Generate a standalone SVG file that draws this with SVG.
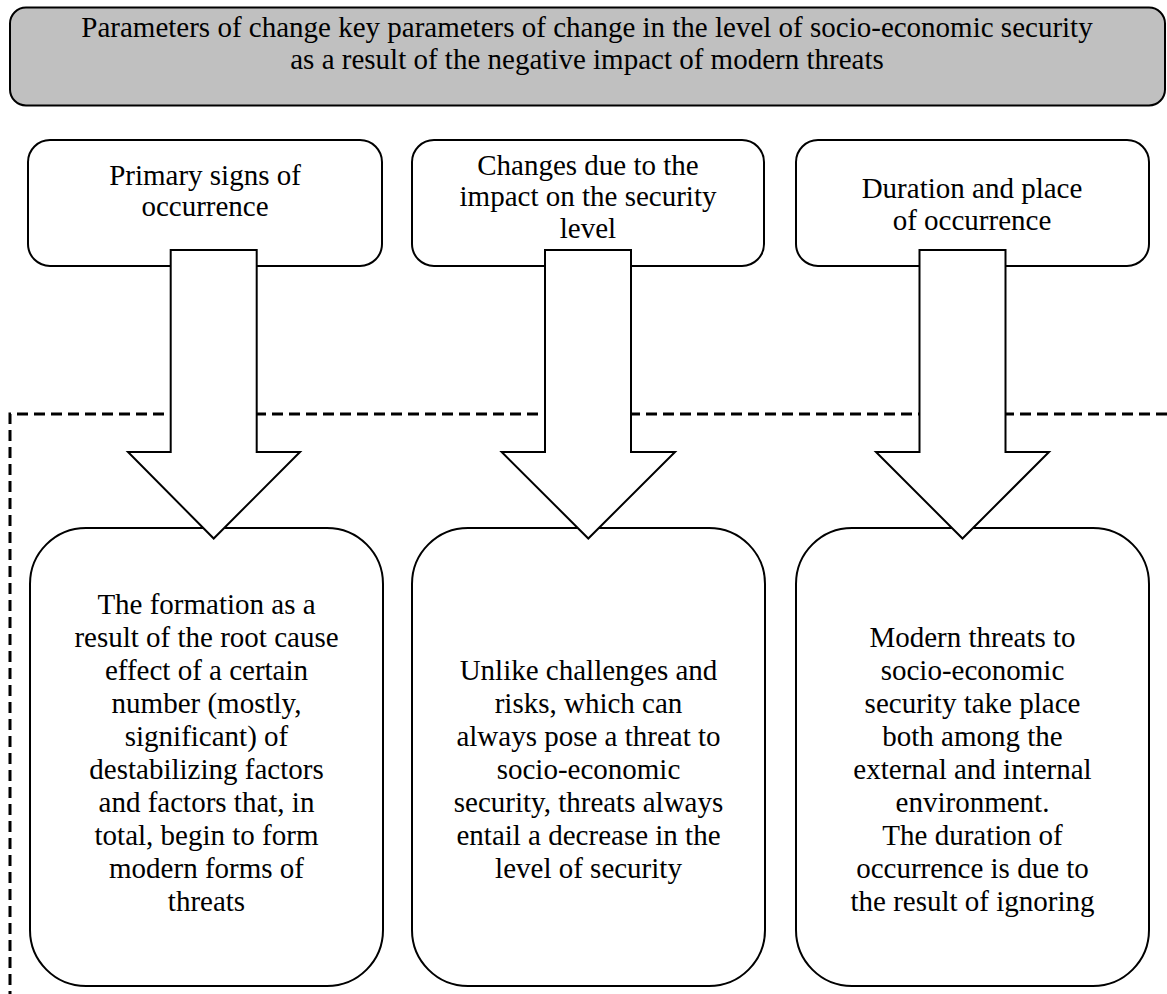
<svg xmlns="http://www.w3.org/2000/svg" width="1167" height="994" viewBox="0 0 1167 994">
<style>
  .box{fill:#fff;stroke:#000;stroke-width:2}
  .banner{fill:#c0c0c0;stroke:#000;stroke-width:2}
  .arrow{fill:#fff;stroke:#000;stroke-width:2;stroke-linejoin:miter}
  .dash{fill:none;stroke:#000;stroke-width:3;stroke-dasharray:11 6}
  text{font-family:"Liberation Serif","Times New Roman",Times,serif;font-size:29px;fill:#000;text-anchor:middle}
</style>
<rect width="1167" height="994" fill="#fff"/>
<g id="banner">
  <rect class="banner" x="10" y="7.5" width="1155" height="98" rx="16"/>
  <text x="587" y="37">Parameters of change key parameters of change in the level of socio-economic security</text>
  <text x="587" y="69">as a result of the negative impact of modern threats</text>
</g>
<g id="top1">
  <rect class="box" x="28" y="140" width="354" height="126" rx="22"/>
  <text x="205" y="185">Primary signs of</text>
  <text x="205" y="216">occurrence</text>
</g>
<g id="top2">
  <rect class="box" x="412" y="140" width="352" height="126" rx="22"/>
  <text x="588" y="175">Changes due to the</text>
  <text x="588" y="206">impact on the security</text>
  <text x="588" y="238">level</text>
</g>
<g id="top3">
  <rect class="box" x="796" y="140" width="353" height="126" rx="22"/>
  <text x="972" y="198">Duration and place</text>
  <text x="972" y="230">of occurrence</text>
</g>
<g id="bottom1">
  <rect class="box" x="30" y="528" width="353" height="458" rx="56"/>
  <text x="206.5" y="614">The formation as a</text>
  <text x="206.5" y="647">result of the root cause</text>
  <text x="206.5" y="680">effect of a certain</text>
  <text x="206.5" y="713">number (mostly,</text>
  <text x="206.5" y="746">significant) of</text>
  <text x="206.5" y="779">destabilizing factors</text>
  <text x="206.5" y="812">and factors that, in</text>
  <text x="206.5" y="845">total, begin to form</text>
  <text x="206.5" y="878">modern forms of</text>
  <text x="206.5" y="911">threats</text>
</g>
<g id="bottom2">
  <rect class="box" x="412" y="528" width="353" height="458" rx="56"/>
  <text x="588.5" y="680">Unlike challenges and</text>
  <text x="588.5" y="713">risks, which can</text>
  <text x="588.5" y="746">always pose a threat to</text>
  <text x="588.5" y="779">socio-economic</text>
  <text x="588.5" y="812">security, threats always</text>
  <text x="588.5" y="845">entail a decrease in the</text>
  <text x="588.5" y="878">level of security</text>
</g>
<g id="bottom3">
  <rect class="box" x="796" y="528" width="353" height="458" rx="56"/>
  <text x="972.5" y="647">Modern threats to</text>
  <text x="972.5" y="680">socio-economic</text>
  <text x="972.5" y="713">security take place</text>
  <text x="972.5" y="746">both among the</text>
  <text x="972.5" y="779">external and internal</text>
  <text x="972.5" y="812">environment.</text>
  <text x="972.5" y="845">The duration of</text>
  <text x="972.5" y="878">occurrence is due to</text>
  <text x="972.5" y="911">the result of ignoring</text>
</g>
<g id="connectors">
  <path class="dash" d="M1167 414 H10 V994"/>
  <path class="arrow" d="M170.7 250 H256.7 V452 H300 L213.7 538.5 L128 452 H170.7 Z"/>
  <path class="arrow" d="M545 250 H631 V452 H675 L588.3 538.5 L501.7 452 H545 Z"/>
  <path class="arrow" d="M919.5 250 H1005.5 V452 H1049 L962.5 538.5 L876 452 H919.5 Z"/>
</g>
</svg>
